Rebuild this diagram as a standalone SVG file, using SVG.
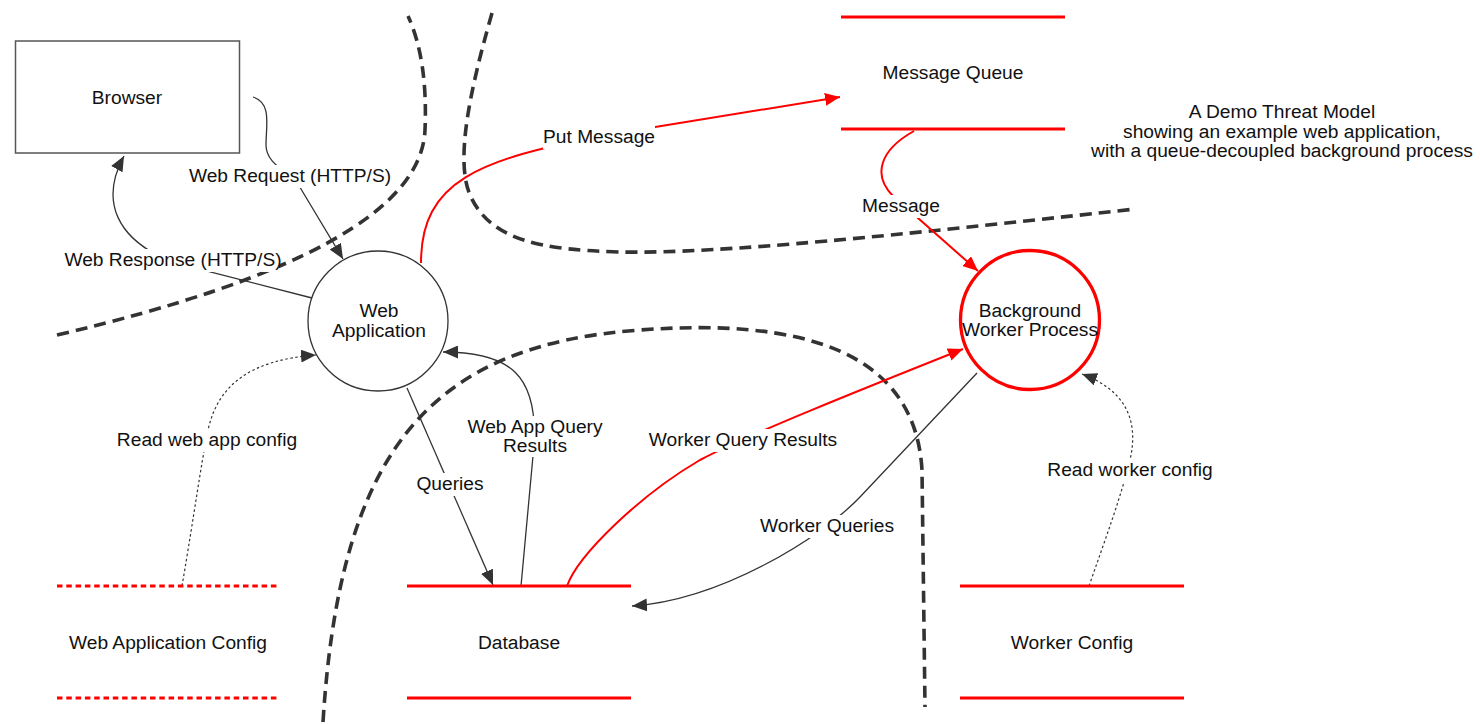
<svg xmlns="http://www.w3.org/2000/svg" width="1480" height="724" viewBox="0 0 1480 724">
<style>
  text { font-family: "Liberation Sans", Arial, sans-serif; font-size: 19.2px; fill: #111; }
  .c { text-anchor: middle; }
  .boundary { fill: none; stroke: #333; stroke-width: 3.6; stroke-dasharray: 12 7; }
  .flow { fill: none; stroke: #333; stroke-width: 1.3; }
  .flow-red { fill: none; stroke: #f00; stroke-width: 2; }
  .dotted { fill: none; stroke: #333; stroke-width: 1.2; stroke-dasharray: 2.5 2.5; }
  .lbl-bg { fill: #fff; }
  .store { stroke: #f00; stroke-width: 3; }
  .store-oos { stroke: #f00; stroke-width: 3; stroke-dasharray: 5.5 3.8; }
</style>
<defs>
  <marker id="arrowDark" markerUnits="userSpaceOnUse" markerWidth="16" markerHeight="13" refX="15" refY="6.5" orient="auto">
    <path d="M0,0 L15,6.5 L0,13 z" fill="#333"/>
  </marker>
  <marker id="arrowRed" markerUnits="userSpaceOnUse" markerWidth="16" markerHeight="13" refX="15" refY="6.5" orient="auto">
    <path d="M0,0 L15,6.5 L0,13 z" fill="#f00"/>
  </marker>
</defs>
<rect width="1480" height="724" fill="#fff"/>

<g id="boundaries">
  <path class="boundary" d="M57,335 Q420,250 425,130 Q428,60 408,16"/>
  <path class="boundary" d="M492,13 C470,90 455,160 470,195 C490,240 540,250 620,252 C720,254 900,235 1135,209"/>
  <path class="boundary" d="M323,722 C340,450 430,345 640,330 C800,318 915,350 922,470 L925,707"/>
</g>

<g id="connectors">
  <g id="flow-web-request">
    <path class="flow" d="M253,97 C272,103 266,125 266,145 C266,165 290,172 298,184 L343,259" marker-end="url(#arrowDark)"/>
    <rect class="lbl-bg" x="188" y="165" width="204" height="23"/>
    <text class="c" x="290" y="182">Web Request (HTTP/S)</text>
  </g>
  <g id="flow-web-response">
    <path class="flow" d="M312,298 L175,263 C115,240 100,200 124,156" marker-end="url(#arrowDark)"/>
    <rect class="lbl-bg" x="67" y="249" width="212" height="23"/>
    <text class="c" x="173" y="266">Web Response (HTTP/S)</text>
  </g>
  <g id="flow-put-message">
    <path class="flow-red" d="M421,263 C421,180 480,160 600,136 L840,97" marker-end="url(#arrowRed)"/>
    <rect class="lbl-bg" x="543" y="126" width="112" height="23"/>
    <text class="c" x="599" y="143">Put Message</text>
  </g>
  <g id="flow-message">
    <path class="flow-red" d="M914,131 C880,150 872,175 893,196 L978,271" marker-end="url(#arrowRed)"/>
    <rect class="lbl-bg" x="862" y="195" width="78" height="23"/>
    <text class="c" x="901" y="212">Message</text>
  </g>
  <g id="flow-worker-query-results">
    <path class="flow-red" d="M567,586 C578,555 640,495 700,460 C745,436 860,390 963,349" marker-end="url(#arrowRed)"/>
    <rect class="lbl-bg" x="647" y="429" width="192" height="23"/>
    <text class="c" x="743" y="446">Worker Query Results</text>
  </g>
  <g id="flow-worker-queries">
    <path class="flow" d="M977,373 L860,497 C820,539 720,600 632,606" marker-end="url(#arrowDark)"/>
    <rect class="lbl-bg" x="759" y="515" width="137" height="23"/>
    <text class="c" x="827" y="532">Worker Queries</text>
  </g>
  <g id="flow-queries">
    <path class="flow" d="M407,388 L493,585" marker-end="url(#arrowDark)"/>
    <rect class="lbl-bg" x="415" y="473" width="70" height="23"/>
    <text class="c" x="450" y="490">Queries</text>
  </g>
  <g id="flow-web-app-query-results">
    <path class="flow" d="M521,586 L534,445 C538,375 510,352 443,352" marker-end="url(#arrowDark)"/>
    <rect class="lbl-bg" x="465" y="416" width="140" height="41"/>
    <text class="c" x="535" y="433">Web App Query</text>
    <text class="c" x="535" y="452">Results</text>
  </g>
  <g id="flow-read-web-app-config">
    <path class="dotted" d="M182,586 C195,510 200,470 208,430 C218,385 250,360 316,355" marker-end="url(#arrowDark)"/>
    <rect class="lbl-bg" x="115" y="429" width="184" height="23"/>
    <text class="c" x="207" y="446">Read web app config</text>
  </g>
  <g id="flow-read-worker-config">
    <path class="dotted" d="M1089,586 C1105,540 1120,500 1130,460 C1138,425 1130,392 1082,374" marker-end="url(#arrowDark)"/>
    <rect class="lbl-bg" x="1045" y="459" width="170" height="23"/>
    <text class="c" x="1130" y="476">Read worker config</text>
  </g>
</g>

<g id="node-browser">
  <rect x="15.5" y="41" width="224" height="112" fill="#fff" stroke="#555" stroke-width="1.5"/>
  <text class="c" x="127" y="104">Browser</text>
</g>
<g id="node-web-application">
  <circle cx="378" cy="321" r="70" fill="#fff" stroke="#333" stroke-width="1.3"/>
  <text class="c" x="379" y="317">Web</text>
  <text class="c" x="379" y="337">Application</text>
</g>
<g id="node-background-worker">
  <circle cx="1030" cy="320" r="69.5" fill="#fff" stroke="#f00" stroke-width="3.3"/>
  <text class="c" x="1030" y="317">Background</text>
  <text class="c" x="1030" y="336">Worker Process</text>
</g>
<g id="node-message-queue">
  <line class="store" x1="841" y1="17" x2="1065" y2="17"/>
  <line class="store" x1="841" y1="129" x2="1065" y2="129"/>
  <text class="c" x="953" y="79">Message Queue</text>
</g>
<g id="node-web-app-config">
  <line class="store-oos" x1="57" y1="586" x2="278" y2="586"/>
  <line class="store-oos" x1="57" y1="698" x2="278" y2="698"/>
  <text class="c" x="168" y="649">Web Application Config</text>
</g>
<g id="node-database">
  <line class="store" x1="407" y1="586" x2="631" y2="586"/>
  <line class="store" x1="407" y1="698" x2="631" y2="698"/>
  <text class="c" x="519" y="649">Database</text>
</g>
<g id="node-worker-config">
  <line class="store" x1="960" y1="586" x2="1184" y2="586"/>
  <line class="store" x1="960" y1="698" x2="1184" y2="698"/>
  <text class="c" x="1072" y="649">Worker Config</text>
</g>
<g id="title">
  <text class="c" x="1282" y="118">A Demo Threat Model</text>
  <text class="c" x="1282" y="137.5">showing an example web application,</text>
  <text class="c" x="1282" y="157">with a queue-decoupled background process</text>
</g>
</svg>
